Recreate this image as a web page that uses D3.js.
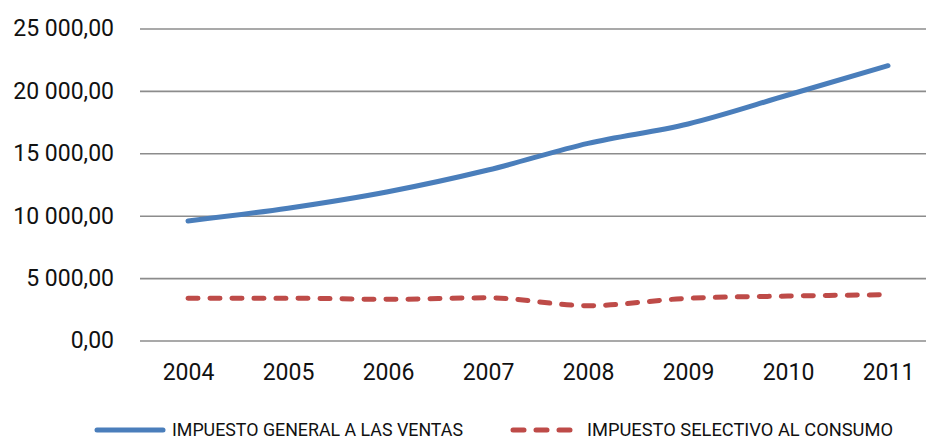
<!DOCTYPE html>
<html><head><meta charset="utf-8">
<script src="https://cdn.jsdelivr.net/npm/d3@7"></script>
<style>body{margin:0;background:#fff}svg{display:block}</style>
</head><body>
<svg id="c" width="926" height="441"></svg>
<script>
const years = ["2004","2005","2006","2007","2008","2009","2010","2011"];
const igv = [9540, 10560, 11880, 13620, 15760, 17310, 19630, 21980];
const isc = [3340, 3350, 3260, 3380, 2750, 3340, 3520, 3630];
const yTicks = [0, 5000, 10000, 15000, 20000, 25000];
const seriesNames = ["IMPUESTO GENERAL A LAS VENTAS", "IMPUESTO SELECTIVO AL CONSUMO"];
const colors = ["#4a7ebb", "#be4b48"];

const svg = d3.select("#c");
const pL = 138, pR = 938, pT = 28, pB = 340;
const x = d3.scalePoint().domain(years).range([pL, pR]).padding(0.5);
const y = d3.scaleLinear().domain([0, 25000]).range([pB, pT]);
const fmt = v => d3.format(",.2f")(v).replace(/,/g, " ").replace(".", ",");

// grid + y labels via axis
const ya = svg.append("g").attr("transform", "translate(140,0.5)")
  .call(d3.axisLeft(y).tickValues(yTicks).tickFormat(fmt).tickSize(-800).tickPadding(26));
ya.select(".domain").remove();
ya.selectAll(".tick line").attr("stroke", "#8c8c8c").attr("stroke-width", 1.6);
ya.selectAll(".tick text").attr("font-family", "Roboto, sans-serif").attr("font-size", 23).attr("fill", "#111");

// x labels via axis
const xa = svg.append("g").attr("transform", `translate(0,${pB})`)
  .call(d3.axisBottom(x).tickSize(0).tickPadding(24));
xa.select(".domain").remove();
xa.selectAll(".tick text").attr("font-family", "Roboto, sans-serif").attr("font-size", 23).attr("fill", "#111");

const line = d3.line().x((d, i) => x(years[i])).y(d => y(d)).curve(d3.curveMonotoneX);
svg.append("path").attr("d", line(igv)).attr("fill", "none")
  .attr("stroke", colors[0]).attr("stroke-width", 5).attr("stroke-linecap", "round");
svg.append("path").attr("d", line(isc)).attr("fill", "none")
  .attr("stroke", colors[1]).attr("stroke-width", 5).attr("stroke-dasharray", "10,12").attr("stroke-linecap", "round");

// legend
const lg = svg.append("g");
lg.append("line").attr("x1", 97).attr("x2", 163).attr("y1", 430).attr("y2", 430)
  .attr("stroke", colors[0]).attr("stroke-width", 5).attr("stroke-linecap", "round");
lg.append("text").attr("x", 172).attr("y", 436)
  .attr("font-family", "Roboto, sans-serif").attr("font-size", 19).attr("fill", "#111")
  .attr("textLength", 291).attr("lengthAdjust", "spacingAndGlyphs")
  .text(seriesNames[0]);
lg.append("line").attr("x1", 513).attr("x2", 570).attr("y1", 430).attr("y2", 430)
  .attr("stroke", colors[1]).attr("stroke-width", 5).attr("stroke-dasharray", "11,12").attr("stroke-linecap", "round");
lg.append("text").attr("x", 587).attr("y", 436)
  .attr("font-family", "Roboto, sans-serif").attr("font-size", 19).attr("fill", "#111")
  .attr("textLength", 306).attr("lengthAdjust", "spacingAndGlyphs")
  .text(seriesNames[1]);
</script>
</body></html>
